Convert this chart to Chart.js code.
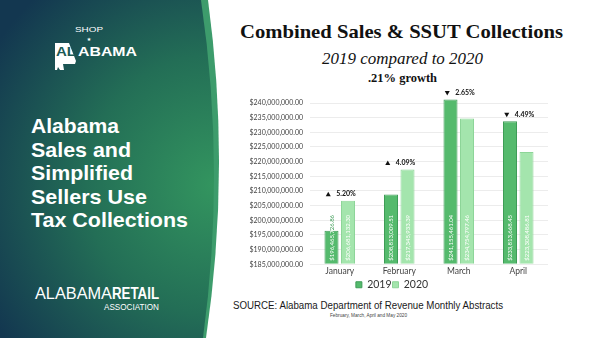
<!DOCTYPE html>
<html>
<head>
<meta charset="utf-8">
<script src="https://cdn.jsdelivr.net/npm/chart.js@4"></script>
<style>
  html, body { margin: 0; padding: 0; background: #fff; }
  #page { position: relative; width: 600px; height: 338px; overflow: hidden; background: #fff; }
  #deco { position: absolute; left: 0; top: 0; }
  #chartBox { position: absolute; left: 236px; top: 84px; width: 320px; height: 216px; }
</style>
</head>
<body>
<div id="page">
  <svg id="deco" width="600" height="338" viewBox="0 0 600 338" xmlns="http://www.w3.org/2000/svg">
    <defs>
      <radialGradient id="panelGrad" cx="215" cy="185" r="260" gradientUnits="userSpaceOnUse">
        <stop offset="0" stop-color="#33955f"/>
        <stop offset="0.5" stop-color="#236e56"/>
        <stop offset="1" stop-color="#133750"/>
      </radialGradient>
    </defs>
    <!-- curved side panel with a lighter rim -->
    <path d="M0,0 L208,0 Q231,169 206,338 L0,338 Z" fill="#3d9c6c"/>
    <path d="M0,0 L201,0 Q226,169 203,338 L0,338 Z" fill="url(#panelGrad)"/>

    <!-- SHOP ALABAMA mark -->
    <text x="75" y="32" font-family="Liberation Sans, Arial, sans-serif" font-size="7.5" fill="#fff"
          textLength="28" lengthAdjust="spacingAndGlyphs">SHOP</text>
    <text x="89" y="40.5" font-family="DejaVu Sans, sans-serif" font-size="5" fill="#fff" text-anchor="middle">★</text>
    <path d="M55,43 L69,43 L76,61 L75,64 L63,64 L64,70 L60,70 L58,67 L57,70 L55,70 Z" fill="#fff"/>
    <text x="56" y="56" font-family="Liberation Sans, Arial, sans-serif" font-weight="bold" font-size="12.5" fill="#1c5a55"
          textLength="20" lengthAdjust="spacingAndGlyphs">AL</text>
    <text x="78" y="56" font-family="Liberation Sans, Arial, sans-serif" font-weight="bold" font-size="12.5" fill="#fff"
          textLength="59" lengthAdjust="spacingAndGlyphs">ABAMA</text>

    <!-- side heading -->
    <g font-family="Liberation Sans, Arial, sans-serif" font-weight="bold" font-size="21" fill="#fff">
      <text x="31" y="133" textLength="88" lengthAdjust="spacingAndGlyphs">Alabama</text>
      <text x="31" y="156.5" textLength="100" lengthAdjust="spacingAndGlyphs">Sales and</text>
      <text x="31" y="180" textLength="102" lengthAdjust="spacingAndGlyphs">Simplified</text>
      <text x="31" y="203.5" textLength="116" lengthAdjust="spacingAndGlyphs">Sellers Use</text>
      <text x="31" y="227" textLength="157" lengthAdjust="spacingAndGlyphs">Tax Collections</text>
    </g>

    <!-- association mark -->
    <text x="35" y="299" font-family="Liberation Sans Narrow, Liberation Sans, Arial, sans-serif" font-size="16" fill="#fff"
          textLength="77" lengthAdjust="spacingAndGlyphs">ALABAMA</text>
    <text x="112" y="299" font-family="Liberation Sans Narrow, Liberation Sans, Arial, sans-serif" font-weight="bold" font-size="16" fill="#fff"
          textLength="47" lengthAdjust="spacingAndGlyphs">RETAIL</text>
    <text x="104" y="309.5" font-family="Liberation Sans Narrow, Liberation Sans, Arial, sans-serif" font-size="8.5" fill="#fff"
          textLength="55" lengthAdjust="spacingAndGlyphs">ASSOCIATION</text>

    <!-- headings over the chart -->
    <text x="240" y="37.5" font-family="Liberation Serif, Times New Roman, serif" font-weight="bold" font-size="19.5" fill="#111"
          textLength="323" lengthAdjust="spacingAndGlyphs">Combined Sales &amp; SSUT Collections</text>
    <text x="322" y="63.5" font-family="Liberation Serif, Times New Roman, serif" font-style="italic" font-size="16" fill="#111"
          textLength="161" lengthAdjust="spacingAndGlyphs">2019 compared to 2020</text>
    <text x="368" y="81.5" font-family="Liberation Serif, Times New Roman, serif" font-weight="bold" font-size="12.5" fill="#111"
          textLength="69" lengthAdjust="spacingAndGlyphs">.21% growth</text>

    <!-- source note -->
    <text x="233" y="308.7" font-family="Liberation Sans, Arial, sans-serif" font-size="10" fill="#1a1a1a"
          textLength="270" lengthAdjust="spacingAndGlyphs">SOURCE: Alabama Department of Revenue Monthly Abstracts</text>
    <text x="330" y="316.8" font-family="Liberation Sans, Arial, sans-serif" font-size="4.5" fill="#444"
          textLength="77" lengthAdjust="spacingAndGlyphs">February, March, April and May 2020</text>
  </svg>
  <div id="chartBox"><canvas id="chart"></canvas></div>
</div>

<script>
// Monthly combined sales & SSUT collections (USD)
const months = ['January', 'February', 'March', 'April'];
const collections2019 = [196465726.86, 208813009.51, 241155461.04, 233813668.45];
const collections2020 = [206681132.30, 217345933.39, 234754797.46, 223308486.81];

// Year-over-year change shown above each month
const growthText = ['5.20%', '4.09%', '2.65%', '4.49%'];
const growthUp = [true, true, false, false];

// Value axis ticks
const yTickValues = [185000000, 190000000, 195000000, 200000000, 205000000, 210000000,
                     215000000, 220000000, 225000000, 230000000, 235000000, 240000000];

const money = v => '$' + v.toLocaleString('en-US', { minimumFractionDigits: 2, maximumFractionDigits: 2 });

const COLOR_2019 = '#55ba6d';
const EDGE_2019 = '#3e9c57';
const COLOR_2020 = '#a4e5ad';
const EDGE_2020 = '#8dd598';

// Rotated dollar amounts written up from the base of each bar
const barValueLabels = {
  id: 'barValueLabels',
  afterDatasetsDraw(chart) {
    const ctx = chart.ctx;
    chart.data.datasets.forEach((ds, di) => {
      const meta = chart.getDatasetMeta(di);
      meta.data.forEach((bar, i) => {
        const p = bar.getProps(['x', 'y', 'base', 'width'], true);
        const text = money(ds.data[i]);
        const left = p.x - p.width / 2;
        const paint = (color) => {
          ctx.save();
          ctx.translate(p.x + 0.5, p.base - 3);
          ctx.rotate(-Math.PI / 2);
          ctx.font = '6px Lato, "DejaVu Sans", sans-serif';
          ctx.textAlign = 'left';
          ctx.textBaseline = 'middle';
          ctx.fillStyle = color;
          ctx.fillText(text, 0, 0);
          ctx.restore();
        };
        // part inside the bar
        ctx.save();
        ctx.beginPath();
        ctx.rect(left, p.y, p.width, p.base - p.y);
        ctx.clip();
        paint('#ffffff');
        ctx.restore();
        // part running past the bar top
        ctx.save();
        ctx.beginPath();
        ctx.rect(left, 0, p.width, p.y);
        ctx.clip();
        paint(ds.borderColor);
        ctx.restore();
      });
    });
  }
};

// Triangle + percentage above each month's pair of bars
const growthMarks = {
  id: 'growthMarks',
  afterDatasetsDraw(chart) {
    const ctx = chart.ctx;
    const xScale = chart.scales.x;
    const m0 = chart.getDatasetMeta(0).data;
    const m1 = chart.getDatasetMeta(1).data;
    months.forEach((m, i) => {
      const cx = xScale.getPixelForValue(i);
      const top = Math.min(m0[i].y, m1[i].y);
      const cy = top - 6.5;
      ctx.save();
      ctx.fillStyle = '#111';
      const tx = cx - 11.5;
      ctx.beginPath();
      if (growthUp[i]) {
        ctx.moveTo(tx - 2.5, cy + 2);
        ctx.lineTo(tx + 2.5, cy + 2);
        ctx.lineTo(tx, cy - 2.5);
      } else {
        ctx.moveTo(tx - 2.5, cy - 2);
        ctx.lineTo(tx + 2.5, cy - 2);
        ctx.lineTo(tx, cy + 2.5);
      }
      ctx.closePath();
      ctx.fill();
      ctx.font = 'bold 7px Lato, "DejaVu Sans", sans-serif';
      ctx.textAlign = 'left';
      ctx.textBaseline = 'middle';
      ctx.fillText(growthText[i], cx - 3.5, cy);
      ctx.restore();
    });
  }
};

new Chart(document.getElementById('chart'), {
  type: 'bar',
  data: {
    labels: months,
    datasets: [
      {
        label: '2019',
        data: collections2019,
        base: yTickValues[0],
        backgroundColor: COLOR_2019,
        borderColor: EDGE_2019,
        borderWidth: 1,
        clip: false
      },
      {
        label: '2020',
        data: collections2020,
        base: yTickValues[0],
        backgroundColor: COLOR_2020,
        borderColor: EDGE_2020,
        borderWidth: 1,
        clip: false
      }
    ]
  },
  options: {
    responsive: true,
    maintainAspectRatio: false,
    devicePixelRatio: 1,
    animation: false,
    categoryPercentage: 0.555,
    barPercentage: 0.85,
    layout: { padding: { top: 19, right: 8, left: 0, bottom: 0 } },
    plugins: {
      tooltip: { enabled: false },
      legend: {
        position: 'bottom',
        labels: {
          boxWidth: 6,
          boxHeight: 6,
          padding: 1,
          color: '#333',
          font: { family: 'Lato, "DejaVu Sans", sans-serif', size: 10.5 }
        }
      }
    },
    scales: {
      x: {
        grid: { display: false, drawTicks: false },
        border: { display: false },
        ticks: {
          color: '#444',
          padding: 2,
          font: { family: 'Lato, "DejaVu Sans", sans-serif', size: 8.5 }
        }
      },
      y: {
        min: 185000000,
        max: 240000000,
        afterBuildTicks: (scale) => { scale.ticks = yTickValues.map(v => ({ value: v })); },
        afterFit: (scale) => { scale.width = 74; },
        grid: { color: '#ececec', drawTicks: false },
        border: { display: false },
        ticks: {
          color: '#444',
          padding: 7,
          font: { family: 'Lato, "DejaVu Sans", sans-serif', size: 7 },
          callback: (v) => money(v)
        }
      }
    }
  },
  plugins: [barValueLabels, growthMarks]
});
</script>
</body>
</html>
